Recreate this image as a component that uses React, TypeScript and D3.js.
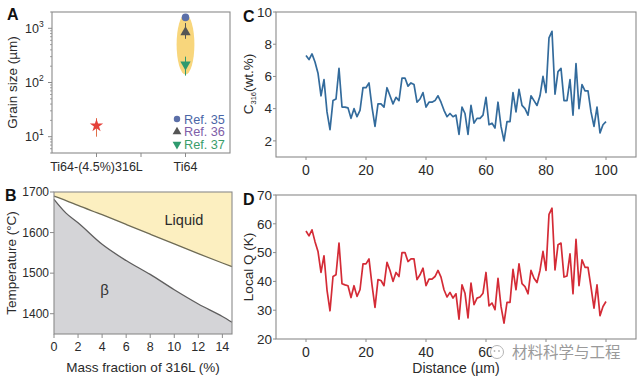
import React from "react";
import * as d3 from "d3";

// ---------- Panel A data ----------
const grainCats = ["Ti64-(4.5%)316L", "Ti64"];
const grainPos = [1, 2];
const starPoint = { x: 1, v: 16, lo: 10, hi: 22 };
const refNames = ["Ref. 35", "Ref. 36", "Ref. 37"];
const refValues = [1590, 845, 214];
const refLo = [1590, 640, 134];
const refHi = [1590, 1250, 300];
const refColors = ["#5b6fa8", "#555555", "#2e9a6e"];
const refTextColors = ["#4a66a6", "#7e5ea8", "#3a9d6a"];
const ellipseBounds = [140, 1800];
const grainTicks = [10, 100, 1000];
const grainExp = ["1", "2", "3"];

// ---------- Panel B data ----------
const massFrac = [0, 1, 2, 4, 6, 8, 10, 12, 14, 14.8];
const liquidusT = [1690, 1679, 1667, 1644, 1620, 1596, 1572, 1548, 1525, 1516];
const solidusT = [1682, 1648, 1624, 1571, 1531, 1497, 1459, 1424, 1393, 1379];
const tempTicks = [1400, 1500, 1600, 1700];
const massTicks = [0, 2, 4, 6, 8, 10, 12, 14];

// ---------- Panel C / D data ----------
const c316 = [
  7.3, 7.05, 7.4, 6.9, 6.2, 4.8, 5.8, 3.8, 2.7, 4.5,
  4.6, 6.5, 4.1, 4.1, 4.05, 3.4, 4.0, 3.5, 3.9, 5.3,
  5.3, 5.6, 4.1, 2.9, 4.3, 4.3, 4.1, 5.3, 4.8, 4.3,
  4.7, 4.5, 5.9, 5.9, 5.4, 5.6, 5.5, 4.4, 4.6, 5.0,
  4.1, 4.4, 4.4, 4.5, 4.8, 4.4, 3.9, 3.5, 3.7, 3.5,
  3.6, 2.4, 4.1, 3.7, 2.4, 4.2, 3.1, 3.4, 3.4, 3.6,
  4.7, 3.0, 3.1, 2.8, 4.4, 2.9, 2.0, 3.2, 3.2, 5.0,
  3.8, 5.2, 4.2, 4.0, 3.6, 4.8, 4.5, 4.2, 4.8, 6.0,
  5.0, 8.4, 8.8, 4.9, 6.3, 6.5, 4.5, 4.5, 5.8, 3.6,
  6.8, 4.0, 5.5, 5.1, 5.1, 3.8, 2.9, 4.1, 2.5, 3.0,
  3.2,
];
const localQ = [
  57.5, 55.8, 57.9, 53.8, 50.4, 43.1, 48.9, 37.0, 29.8, 41.7,
  42.3, 53.3, 39.2, 38.8, 38.5, 34.4, 38.5, 34.8, 37.1, 46.1,
  46.1, 47.8, 38.8, 31.0, 40.6, 40.3, 38.5, 46.6, 43.8, 40.0,
  43.1, 41.7, 50.0, 50.0, 46.9, 47.8, 47.8, 40.6, 42.3, 44.6,
  38.5, 40.8, 40.8, 41.7, 43.8, 41.5, 37.1, 34.6, 36.2, 34.2,
  35.7, 26.9, 38.8, 35.9, 27.3, 39.4, 31.9, 34.2, 34.6, 35.9,
  43.1, 31.5, 32.5, 30.2, 41.1, 31.3, 25.5, 32.7, 32.7, 44.2,
  37.1, 46.1, 39.2, 38.2, 35.7, 43.8, 41.1, 39.6, 43.8, 50.4,
  43.8, 63.3, 65.4, 44.0, 52.7, 53.3, 41.5, 41.9, 49.6, 35.7,
  54.6, 38.5, 47.5, 44.9, 44.9, 38.0, 30.7, 38.8, 28.1, 31.3,
  33.0,
];
const distTicks = [0, 20, 40, 60, 80, 100];
// labels under panel D that stay visible (80 and 100 are hidden by the watermark in the reference)
const distLabelsD = [0, 20, 40, 60];
const cTicks = [2, 4, 6, 8, 10];
const qTicks = [20, 30, 40, 50, 60, 70];

const FONT = "'Liberation Sans', Arial, Helvetica, sans-serif";
const TXT = "#2a2a2a";
const AX = "#8a8a8a";

function PanelA() {
  const L = 52, R = 230, T = 12, B = 153;
  const x = d3.scaleLinear().domain([0.5, 2.5]).range([L, R]);
  const y = d3.scaleLog().domain([5, 2000]).range([B, T]);
  const minor: number[] = [];
  for (const dec of [1, 10, 100, 1000]) {
    for (let k = 2; k <= 9; k++) {
      const v = dec * k;
      if (v >= 5 && v <= 2000) minor.push(v);
    }
  }
  const star = d3.symbol().type(d3.symbolStar).size(55)()!;
  const tri = d3.symbol().type(d3.symbolTriangle).size(46)()!;
  const circ = d3.symbol().type(d3.symbolCircle).size(45)()!;
  const shapes = [circ, tri, tri];
  const rot = [0, 0, 180];
  const ex = x(2);
  const eTop = y(ellipseBounds[1]);
  const eBot = y(ellipseBounds[0]);
  return (
    <g>
      <ellipse cx={ex} cy={(eTop + eBot) / 2} rx={x(2.1) - x(2)} ry={(eBot - eTop) / 2} fill="#f8d67c" />
      <rect x={L} y={T} width={R - L} height={B - T} fill="none" stroke={AX} strokeWidth={1.1} />
      {minor.map((v) => (
        <line key={"m" + v} x1={L - 2} x2={L} y1={y(v)} y2={y(v)} stroke={AX} strokeWidth={0.8} />
      ))}
      {grainTicks.map((v, i) => (
        <g key={"t" + v}>
          <line x1={L - 4} x2={L} y1={y(v)} y2={y(v)} stroke={AX} strokeWidth={1} />
          <text x={L - 13} y={y(v) + 4.5} textAnchor="end" fontSize={12.5} fill={TXT} fontFamily={FONT}>10</text>
          <text x={L - 13} y={y(v) - 1.5} fontSize={8.5} fill={TXT} fontFamily={FONT}>{grainExp[i]}</text>
        </g>
      ))}
      {[1, 1.5, 2].map((v) => (
        <line key={"x" + v} x1={x(v)} x2={x(v)} y1={B} y2={B + 4} stroke={AX} strokeWidth={1} />
      ))}
      {grainCats.map((c, i) => (
        <text key={c} x={x(grainPos[i])} y={B + 18} textAnchor="middle" fontSize={12.5} fill={TXT} fontFamily={FONT}>{c}</text>
      ))}
      <text transform={`translate(17,${(T + B) / 2}) rotate(-90)`} textAnchor="middle" fontSize={13.5} fill={TXT} fontFamily={FONT}>Grain size (µm)</text>
      <line x1={x(starPoint.x)} x2={x(starPoint.x)} y1={y(starPoint.lo)} y2={y(starPoint.hi)} stroke="#e0704a" strokeWidth={1} />
      <path d={star} transform={`translate(${x(starPoint.x)},${y(starPoint.v)})`} fill="#e5413a" />
      {refValues.map((v, i) => (
        <g key={"r" + i}>
          {refLo[i] !== refHi[i] && (
            <line x1={ex} x2={ex} y1={y(refLo[i])} y2={y(refHi[i])} stroke={refColors[i]} strokeWidth={1} />
          )}
          <path d={shapes[i]} transform={`translate(${ex},${y(v)}) rotate(${rot[i]})`} fill={refColors[i]} />
        </g>
      ))}
      {refNames.map((n, i) => (
        <g key={n}>
          <path d={shapes[i]} transform={`translate(177,${119 + i * 12.7}) rotate(${rot[i]}) scale(0.85)`} fill={refColors[i]} />
          <text x={184} y={123.5 + i * 12.7} fontSize={12.7} fill={refTextColors[i]} fontFamily={FONT}>{n}</text>
        </g>
      ))}
      <text x={7} y={20} fontSize={16} fontWeight="bold" fill="#111" fontFamily={FONT}>A</text>
    </g>
  );
}

function PanelB() {
  const L = 54, R = 232, T = 192, B = 334;
  const x = d3.scaleLinear().domain([0, 14.8]).range([L, R]);
  const y = d3.scaleLinear().domain([1350, 1700]).range([B, T]);
  const liqPts = massFrac.map((m, i) => [m, liquidusT[i]] as [number, number]);
  const solPts = massFrac.map((m, i) => [m, solidusT[i]] as [number, number]);
  const areaTop = d3.area<[number, number]>().x((d) => x(d[0])).y0(y(1700)).y1((d) => y(d[1])).curve(d3.curveMonotoneX);
  const areaBot = d3.area<[number, number]>().x((d) => x(d[0])).y0(y(1350)).y1((d) => y(d[1])).curve(d3.curveMonotoneX);
  const line = d3.line<[number, number]>().x((d) => x(d[0])).y((d) => y(d[1])).curve(d3.curveMonotoneX);
  return (
    <g>
      <path d={areaTop(liqPts)!} fill="#fcefc0" />
      <path d={areaBot(solPts)!} fill="#d4d4d7" />
      <path d={line(liqPts)!} fill="none" stroke="#6e6b55" strokeWidth={1.3} />
      <path d={line(solPts)!} fill="none" stroke="#5f5e5e" strokeWidth={1.3} />
      <rect x={L} y={T} width={R - L} height={B - T} fill="none" stroke={AX} strokeWidth={1.1} />
      {tempTicks.map((v) => (
        <g key={v}>
          <line x1={L - 4} x2={L} y1={y(v)} y2={y(v)} stroke={AX} />
          <text x={L - 5} y={y(v) + 4.3} textAnchor="end" fontSize={12} fill={TXT} fontFamily={FONT}>{v}</text>
        </g>
      ))}
      {massTicks.map((v) => (
        <g key={v}>
          <line x1={x(v)} x2={x(v)} y1={B} y2={B + 4} stroke={AX} />
          <text x={x(v)} y={B + 17} textAnchor="middle" fontSize={12.5} fill={TXT} fontFamily={FONT}>{v}</text>
        </g>
      ))}
      <text x={(L + R) / 2} y={372} textAnchor="middle" fontSize={13.5} fill={TXT} fontFamily={FONT}>Mass fraction of 316L (%)</text>
      <text transform={`translate(16,${(T + B) / 2}) rotate(-90)`} textAnchor="middle" fontSize={13.5} fill={TXT} fontFamily={FONT}>Temperature (°C)</text>
      <text x={x(10.8)} y={225} textAnchor="middle" fontSize={14.5} fill={TXT} fontFamily={FONT}>Liquid</text>
      <text x={x(4.2)} y={295} textAnchor="middle" fontSize={15} fill="#333" fontFamily={FONT}>β</text>
      <text x={5} y={201} fontSize={16} fontWeight="bold" fill="#111" fontFamily={FONT}>B</text>
    </g>
  );
}

function LinePanel(props: {
  T: number; B: number; data: number[]; domain: [number, number]; ticks: number[];
  color: string; label: React.ReactNode; letter: string; showXTitle: boolean; xLabels: number[];
}) {
  const L = 276, R = 636;
  const { T, B, data, domain, ticks, color, label, letter, showXTitle, xLabels } = props;
  const x = d3.scaleLinear().domain([-10, 110]).range([L, R]);
  const y = d3.scaleLinear().domain(domain).range([B, T]);
  const line = d3.line<number>().x((_, i) => x(i)).y((d) => y(d));
  return (
    <g>
      <rect x={L} y={T} width={R - L} height={B - T} fill="none" stroke={AX} strokeWidth={1.1} />
      {ticks.map((v) => (
        <g key={v}>
          <line x1={L - 3} x2={L} y1={y(v)} y2={y(v)} stroke={AX} />
          <text x={L - 4} y={y(v) + 4.8} textAnchor="end" fontSize={13.5} fill={TXT} fontFamily={FONT}>{v}</text>
        </g>
      ))}
      {distTicks.map((v) => (
        <line key={v} x1={x(v)} x2={x(v)} y1={B} y2={B + 3} stroke={AX} />
      ))}
      {xLabels.map((v) => (
        <text key={v} x={x(v)} y={B + 18} textAnchor="middle" fontSize={14} fill={TXT} fontFamily={FONT}>{v}</text>
      ))}
      <path d={line(data)!} fill="none" stroke={color} strokeWidth={1.7} strokeLinejoin="round" />
      {label}
      {showXTitle && (
        <text x={x(50)} y={373} textAnchor="middle" fontSize={14} fill={TXT} fontFamily={FONT}>Distance (µm)</text>
      )}
      <text x={243} y={T + 10} fontSize={16} fontWeight="bold" fill="#111" fontFamily={FONT}>{letter}</text>
    </g>
  );
}

export default function App() {
  return (
    <svg width={640} height={378} style={{ position: "absolute", left: 0, top: 0, background: "#fff" }}>
      <rect width={640} height={378} fill="#fff" />
      <PanelA />
      <PanelB />
      <LinePanel
        T={12} B={157} data={c316} domain={[1, 10]} ticks={cTicks} color="#336b9c" letter="C" showXTitle={false}
        xLabels={distTicks}
        label={
          <text transform="translate(253,84) rotate(-90)" textAnchor="middle" fontSize={13.5} fill={TXT} fontFamily={FONT}>
            C<tspan fontSize={7.5} dy={3}>316</tspan><tspan dy={-3}>(wt.%)</tspan>
          </text>
        }
      />
      <LinePanel
        T={195} B={339} data={localQ} domain={[20, 70]} ticks={qTicks} color="#d42b36" letter="D" showXTitle={true}
        xLabels={distLabelsD}
        label={
          <text transform="translate(253,267) rotate(-90)" textAnchor="middle" fontSize={13.5} fill={TXT} fontFamily={FONT}>Local Q (K)</text>
        }
      />
      {/* watermark */}
      <g>
        <circle cx={497} cy={352} r={6.5} fill="#fff" stroke="#b5b5b5" strokeWidth={1} />
        <circle cx={494.5} cy={351} r={0.9} fill="#b5b5b5" />
        <circle cx={499} cy={351} r={0.9} fill="#b5b5b5" />
        <text x={512} y={358} fontSize={15.5} fill="#9a9a9a" stroke="#fff" strokeWidth={2} paintOrder="stroke" fontFamily="'Noto Sans CJK SC', sans-serif">材料科学与工程</text>
      </g>
    </svg>
  );
}
